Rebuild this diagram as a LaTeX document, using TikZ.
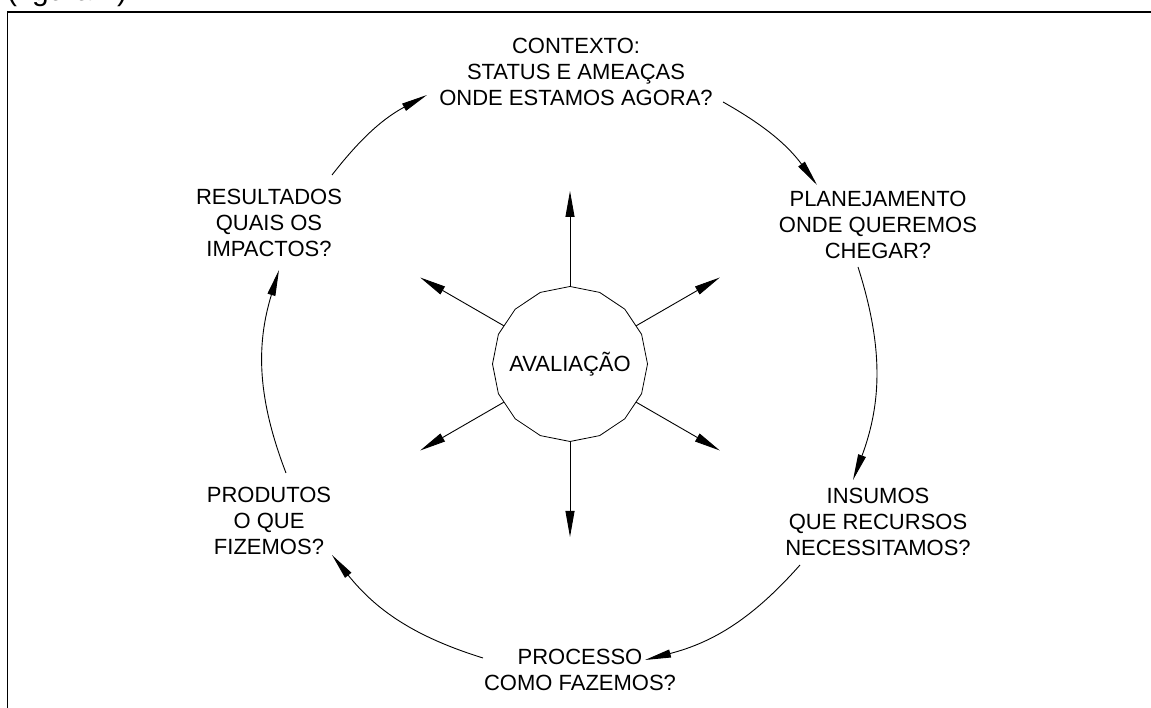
\documentclass[tikz,border=0pt]{standalone}
\usepackage{fontspec}
\setmainfont{Liberation Sans}
\usetikzlibrary{arrows.meta,shapes.geometric,calc}

\tikzset{
  stage/.style={align=center, inner sep=0pt, font=\fontsize{22}{26}\selectfont},
  flow/.style={line width=0.9pt, -{Triangle[length=26pt,width=8pt]}},
  spoke/.style={line width=0.9pt, -{Triangle[length=26pt,width=9pt]}}
}

\begin{document}
\begin{tikzpicture}[x=1pt,y=1pt]
    \useasboundingbox (0,0) rectangle (1151,708);

    % frame and caption line above it
    \draw[line width=1.4pt] (7.5,-5) -- (7.5,696) -- (1160,696);
    \node[anchor=base west, inner sep=0pt, font=\fontsize{30}{34}\selectfont] (fig) at (7,707) {(figura 1).};

    % stages of the cycle
    \node[stage] (ctx)  at (576,636) {CONTEXTO:\\STATUS E AMEAÇAS\\ONDE ESTAMOS AGORA?};
    \node[stage] (plan) at (878,483) {PLANEJAMENTO\\ONDE QUEREMOS\\CHEGAR?};
    \node[stage] (ins)  at (878,186) {INSUMOS\\QUE RECURSOS\\NECESSITAMOS?};
    \node[stage] (proc) at (580,38)  {PROCESSO\\COMO FAZEMOS?};
    \node[stage] (prod) at (269,187) {PRODUTOS\\O QUE\\FIZEMOS?};
    \node[stage] (res)  at (269,485) {RESULTADOS\\QUAIS OS\\IMPACTOS?};

    % centre
    \node[draw, line width=0.8pt, regular polygon, regular polygon sides=16, inner sep=0pt,
      shape border rotate=11.25, minimum size=155pt] (aval) at (570,344) {};
    \node[stage] (aval-text) at (aval.center) {AVALIAÇÃO};

    % ends of the arcs
    \coordinate (res-out)  at (332,533);
    \coordinate (ctx-in)   at (427,613);
    \coordinate (ctx-out)  at (723,606);
    \coordinate (plan-in)  at (817,523);
    \coordinate (plan-out) at (858,441);
    \coordinate (ins-in)   at (853,228);
    \coordinate (ins-out)  at (800,143);
    \coordinate (proc-in)  at (645,48);
    \coordinate (proc-out) at (483,50);
    \coordinate (prod-in)  at (332,153);
    \coordinate (prod-out) at (286,235);
    \coordinate (res-in)   at (279,438);

    \foreach \s/\e/\b in {res-out/ctx-in/12, ctx-out/plan-in/12, plan-out/ins-in/19,
        ins-out/proc-in/17, proc-out/prod-in/17, prod-out/res-in/19} {
        \draw[flow] (\s) to[bend left=\b] (\e);
      }

    \foreach \a in {90,30,-30,-90,-150,150} {
        \coordinate (tip\a) at ($(aval.center)+(\a:173)$);
        \draw[spoke] (aval.\a) -- (tip\a);
      }
  \end{tikzpicture}
\end{document}
